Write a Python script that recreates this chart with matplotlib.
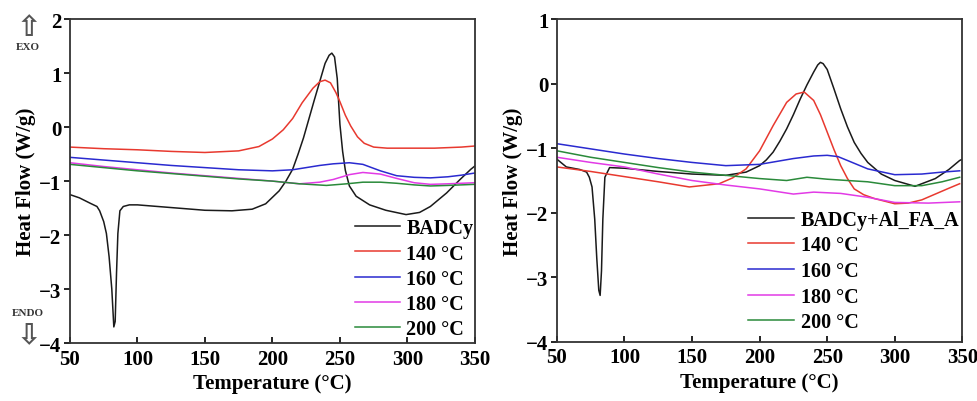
import matplotlib.pyplot as plt

# ---- data ----
# left panel: BADCy and isothermal pre-cured samples
left_badcy_x = [50, 57, 65, 70, 72, 75, 77, 79, 81, 82.5, 83.5, 84.5, 85.5, 87, 89.5, 94,
                100, 120, 150, 170, 185, 195, 200, 205, 210, 215, 219, 223, 227, 231,
                235, 239, 242, 244, 246, 248, 250, 252, 254, 257, 262, 272, 284, 299,
                309, 317, 329, 339, 347, 350]
left_badcy_y = [-1.25, -1.31, -1.41, -1.47, -1.55, -1.75, -1.97, -2.40, -3.00, -3.70, -3.60,
                -2.70, -1.97, -1.55, -1.47, -1.44, -1.44, -1.48, -1.54, -1.55, -1.52, -1.42,
                -1.30, -1.18, -1.00, -0.78, -0.50, -0.20, 0.15, 0.50, 0.84, 1.18, 1.33, 1.37,
                1.30, 0.90, 0.05, -0.45, -0.80, -1.09, -1.28, -1.44, -1.54, -1.62, -1.58,
                -1.47, -1.22, -0.97, -0.78, -0.72]

left_140_x = [50, 75, 100, 125, 150, 175, 190, 200, 208, 215, 222, 230, 235, 239, 243, 247,
              250, 254, 258, 263, 268, 275, 285, 300, 320, 340, 350]
left_140_y = [-0.37, -0.40, -0.42, -0.45, -0.47, -0.44, -0.36, -0.22, -0.05, 0.16, 0.45,
              0.72, 0.84, 0.87, 0.82, 0.64, 0.47, 0.22, 0.02, -0.18, -0.30, -0.37, -0.39,
              -0.39, -0.39, -0.37, -0.35]

left_160_x = [50, 75, 100, 125, 150, 175, 200, 215, 225, 235, 245, 257, 267, 280, 292,
              305, 317, 330, 340, 350]
left_160_y = [-0.56, -0.61, -0.66, -0.71, -0.75, -0.79, -0.81, -0.79, -0.75, -0.71, -0.68,
              -0.66, -0.69, -0.81, -0.90, -0.93, -0.94, -0.92, -0.89, -0.85]

left_180_x = [50, 75, 100, 125, 150, 175, 200, 220, 235, 245, 257, 267, 280, 292, 305,
              317, 330, 340, 350]
left_180_y = [-0.66, -0.73, -0.79, -0.85, -0.90, -0.95, -1.00, -1.05, -1.02, -0.97, -0.88,
              -0.84, -0.87, -0.95, -1.03, -1.06, -1.05, -1.04, -1.03]

left_200_x = [50, 75, 100, 125, 150, 175, 200, 220, 240, 255, 267, 280, 292, 305, 317,
              330, 340, 350]
left_200_y = [-0.69, -0.75, -0.81, -0.86, -0.91, -0.96, -1.00, -1.05, -1.08, -1.05, -1.02,
              -1.02, -1.04, -1.07, -1.09, -1.08, -1.07, -1.06]

# right panel: BADCy+Al_FA_A and isothermal pre-cured samples
right_badcy_x = [50, 57, 67, 72, 74, 76, 78, 79.5, 81, 82, 83, 84, 85.5, 89, 100, 125, 150,
                 175, 190, 200, 205, 210, 215, 220, 225, 230, 235, 240, 243, 245, 247, 250,
                 255, 260, 265, 270, 275, 280, 290, 300, 315, 330, 340, 348, 350]
right_badcy_y = [-1.17, -1.29, -1.33, -1.37, -1.45, -1.60, -2.10, -2.70, -3.20, -3.28, -2.90,
                 -2.10, -1.45, -1.30, -1.31, -1.36, -1.40, -1.42, -1.37, -1.27, -1.18, -1.06,
                 -0.89, -0.70, -0.48, -0.24, -0.02, 0.18, 0.29, 0.33, 0.31, 0.22, -0.08,
                 -0.39, -0.67, -0.91, -1.08, -1.22, -1.40, -1.50, -1.59, -1.47, -1.33, -1.19,
                 -1.17]

right_140_x = [50, 75, 100, 125, 148, 170, 180, 190, 200, 210, 220, 227, 233, 240, 245, 250,
               255, 260, 265, 270, 277, 285, 300, 310, 320, 330, 340, 348]
right_140_y = [-1.29, -1.36, -1.44, -1.52, -1.60, -1.55, -1.46, -1.32, -1.04, -0.65, -0.29,
               -0.16, -0.13, -0.26, -0.48, -0.75, -1.02, -1.27, -1.47, -1.63, -1.72, -1.78,
               -1.86, -1.85, -1.80, -1.71, -1.62, -1.55]

right_160_x = [50, 75, 100, 125, 150, 175, 200, 225, 240, 250, 258, 265, 280, 300, 320,
               335, 348]
right_160_y = [-0.93, -1.01, -1.09, -1.16, -1.22, -1.27, -1.25, -1.16, -1.12, -1.11, -1.13,
               -1.19, -1.32, -1.41, -1.40, -1.37, -1.35]

right_180_x = [50, 75, 100, 125, 150, 175, 200, 225, 240, 260, 280, 300, 325, 348]
right_180_y = [-1.14, -1.22, -1.29, -1.40, -1.50, -1.57, -1.63, -1.71, -1.68, -1.70, -1.76,
               -1.84, -1.85, -1.83]

right_200_x = [50, 75, 100, 125, 150, 175, 200, 220, 235, 250, 265, 280, 300, 320, 335, 348]
right_200_y = [-1.04, -1.14, -1.22, -1.30, -1.37, -1.42, -1.47, -1.50, -1.45, -1.48, -1.50,
               -1.52, -1.58, -1.58, -1.52, -1.45]

left_labels = ["BADCy", "140 °C", "160 °C", "180 °C", "200 °C"]
right_labels = ["BADCy+Al_FA_A", "140 °C", "160 °C", "180 °C", "200 °C"]
colors = ["#1a1a1a", "#e8392f", "#2a2ad0", "#e23ae6", "#2a8a3a"]

plt.rcParams["font.family"] = "Liberation Serif"
plt.rcParams["font.weight"] = "bold"


def style_axes(ax, ymin, ymax):
    ax.set_xlim(50, 350)
    ax.set_ylim(ymin, ymax)
    ax.set_xticks(range(50, 351, 50))
    ax.set_yticks(range(ymin, ymax + 1))
    ax.tick_params(axis="x", direction="in", length=4, width=1.2, labelsize=15, pad=4)
    ax.tick_params(axis="y", direction="out", length=4, width=1.2, labelsize=15, pad=2)
    for lab in ax.get_xticklabels() + ax.get_yticklabels():
        lab.set_fontweight("bold")
    for sp in ax.spines.values():
        sp.set_linewidth(1.3)
        sp.set_color("#333333")
    ax.set_xlabel("Temperature (°C)", fontsize=15, fontweight="bold", labelpad=3)
    ax.set_ylabel("Heat Flow (W/g)", fontsize=15, fontweight="bold", labelpad=2)


fig = plt.figure(figsize=(9.77, 4.02), dpi=100)
ax1 = fig.add_axes([0.0716, 0.144, 0.4145, 0.806])
ax2 = fig.add_axes([0.570, 0.147, 0.415, 0.803])

left_series = [(left_badcy_x, left_badcy_y), (left_140_x, left_140_y), (left_160_x, left_160_y),
               (left_180_x, left_180_y), (left_200_x, left_200_y)]
right_series = [(right_badcy_x, right_badcy_y), (right_140_x, right_140_y),
                (right_160_x, right_160_y), (right_180_x, right_180_y),
                (right_200_x, right_200_y)]

for (xs, ys), lab, c in zip(left_series, left_labels, colors):
    ax1.plot(xs, ys, color=c, lw=1.1, label=lab)
for (xs, ys), lab, c in zip(right_series, right_labels, colors):
    ax2.plot(xs, ys, color=c, lw=1.1, label=lab)

style_axes(ax1, -4, 2)
style_axes(ax2, -4, 1)

ax1.legend(loc="lower left", bbox_to_anchor=(0.704, 0.012), frameon=False,
           handlelength=2.25, handletextpad=0.3, labelspacing=0.26,
           borderaxespad=0.0, borderpad=0.0, prop={"weight": "bold", "size": 14.5})
ax2.legend(loc="lower left", bbox_to_anchor=(0.472, 0.030), frameon=False,
           handlelength=2.25, handletextpad=0.35, labelspacing=0.28,
           borderaxespad=0.0, borderpad=0.0, prop={"weight": "bold", "size": 14.5})

# EXO / ENDO markers
fig.text(0.0297, 0.930, "\u21e7", fontsize=21, family="DejaVu Sans", ha="center",
         va="center", color="#555555")
fig.text(0.0287, 0.881, "EXO", fontsize=8, ha="center", va="center", color="#333333")
fig.text(0.0287, 0.221, "ENDO", fontsize=8, ha="center", va="center", color="#333333")
fig.text(0.0297, 0.167, "\u21e9", fontsize=21, family="DejaVu Sans", ha="center",
         va="center", color="#555555")

fig.savefig("out.png", dpi=100)
